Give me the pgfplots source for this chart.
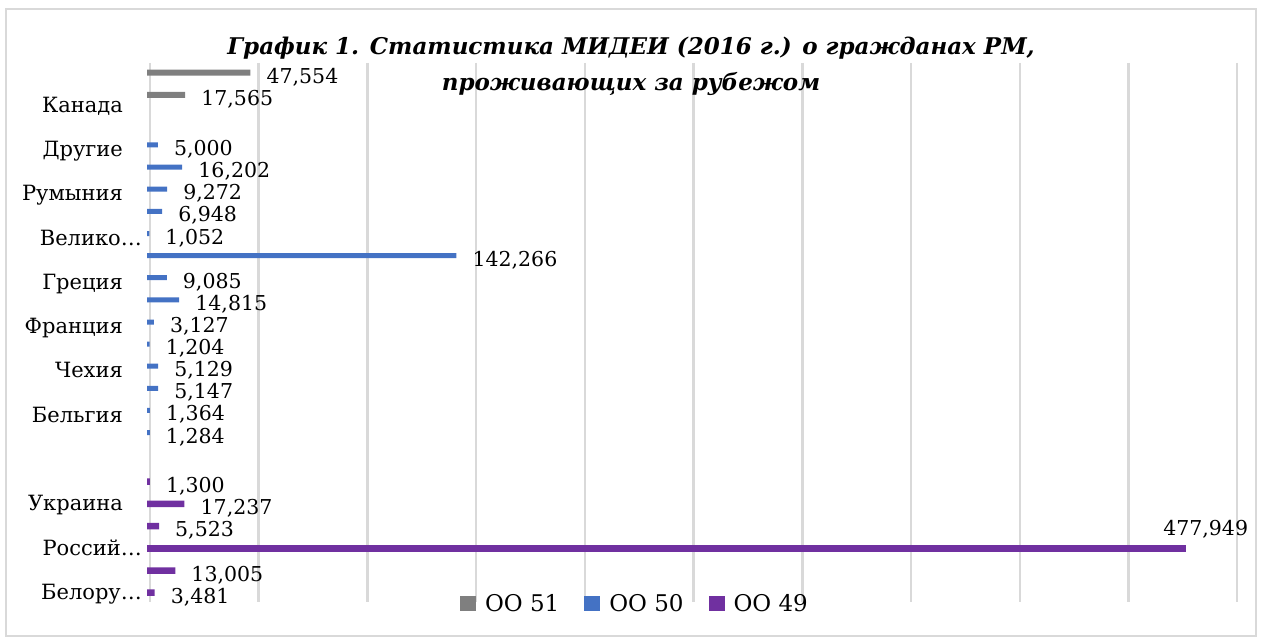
\documentclass[border=0pt]{standalone}
\usepackage{fontspec}
\setmainfont{DejaVu Serif}
\usepackage{graphicx}
\usepackage{pgfplots}
\usepackage{pgfplotstable}
\pgfplotsset{compat=1.18}
\definecolor{cgray}{HTML}{7F7F7F}
\definecolor{cblue}{HTML}{4472C4}
\definecolor{cpurple}{HTML}{7030A0}
\definecolor{gridgray}{HTML}{D9D9D9}

% y = row position (top to bottom), v = value, lab = printed label
\pgfplotstableread{
y v lab
72.7 47554 47,554
95.0 17565 17,565
}\grayT
\pgfplotstableread{
y v lab
145.0 5000 5,000
167.1 16202 16,202
189.2 9272 9,272
211.4 6948 6,948
233.5 1052 1,052
255.6 142266 142,266
277.7 9085 9,085
299.8 14815 14,815
322.0 3127 3,127
344.1 1204 1,204
366.2 5129 5,129
388.3 5147 5,147
410.4 1364 1,364
432.6 1284 1,284
}\blueT
\pgfplotstableread{
y v lab
481.7 1300 1,300
503.9 17237 17,237
526.1 5523 5,523
570.5 13005 13,005
592.7 3481 3,481
}\purpleT
\pgfplotstableread{
y v lab
548.3 477949 477,949
}\purpleBigT

\pgfplotsset{
  normlbl/.style={nodes near coords, point meta=explicit symbolic,
    every node near coord/.append style={anchor=base west, inner sep=0pt, xshift=16bp, yshift=-10.5bp,
      font=\fontsize{20.5bp}{24bp}\selectfont, text=black}},
  speclbl/.style={nodes near coords, point meta=explicit symbolic,
    every node near coord/.append style={anchor=base east, inner sep=0pt, xshift=62bp, yshift=13bp,
      font=\fontsize{20.5bp}{24bp}\selectfont, text=black}},
}

\begin{document}
\begin{tikzpicture}
\useasboundingbox (0,0) rectangle (1263bp,637bp);
\draw[gridgray, line width=1.5bp] (6bp,1bp) rectangle (1256bp,628bp);
\begin{axis}[
  at={(147bp,35bp)}, anchor=south west,
  scale only axis, width=1087.3bp, height=539bp,
  xmin=0, xmax=500000, ymin=63, ymax=602, y dir=reverse,
  clip=false,
  axis line style={draw=none},
  major tick length=0pt,
  scaled x ticks=false,
  xtick={0,50000,...,500000}, xticklabels={},
  xmajorgrids, grid style={draw=gridgray, line width=2.5bp, xshift=3bp},
  ytick={112.3,156.5,200.7,245,289.3,333.6,377.9,422.2,510.8,555.1,599.4},
  yticklabels={Канада,Другие,Румыния,{Велико…\hspace*{-19bp}},Греция,Франция,Чехия,Бельгия,Украина,{Россий…\hspace*{-19bp}},{Белору…\hspace*{-19bp}}},
  yticklabel style={anchor=base east, inner sep=0pt, xshift=-24bp, font=\fontsize{21bp}{25bp}\selectfont},
  legend style={draw=none, fill=none, at={(0.4488,-0.003)}, anchor=center, legend columns=-1,
    font=\fontsize{23bp}{27bp}\selectfont, /tikz/every even column/.append style={column sep=23bp}, inner sep=0pt},
  legend image code/.code={\fill[#1] (0bp,-7.5bp) rectangle (16bp,8bp); \path (23bp,0bp);},
]
\addplot[xbar, bar shift=0pt, bar width=6, fill=cgray, draw=none, normlbl] table[x=v, y=y, meta=lab] {\grayT};
\addlegendentry{OO 51}
\addplot[xbar, bar shift=0pt, bar width=5, fill=cblue, draw=none, normlbl] table[x=v, y=y, meta=lab] {\blueT};
\addlegendentry{OO 50}
\addplot[xbar, bar shift=0pt, bar width=6.5, fill=cpurple, draw=none, normlbl] table[x=v, y=y, meta=lab] {\purpleT};
\addlegendentry{OO 49}
\addplot[xbar, bar shift=0pt, bar width=6.5, fill=cpurple, draw=none, forget plot, speclbl] table[x=v, y=y, meta=lab] {\purpleBigT};
\end{axis}
\node[anchor=base, inner sep=0pt] at (631bp,582bp) {\bfseries\itshape\fontsize{23bp}{27bp}\selectfont График 1. Статистика МИДЕИ (2016 г.) о гражданах РМ,};
\node[anchor=base, inner sep=0pt] at (631bp,546bp) {\bfseries\itshape\fontsize{23bp}{27bp}\selectfont проживающих за рубежом};
\end{tikzpicture}
\end{document}
